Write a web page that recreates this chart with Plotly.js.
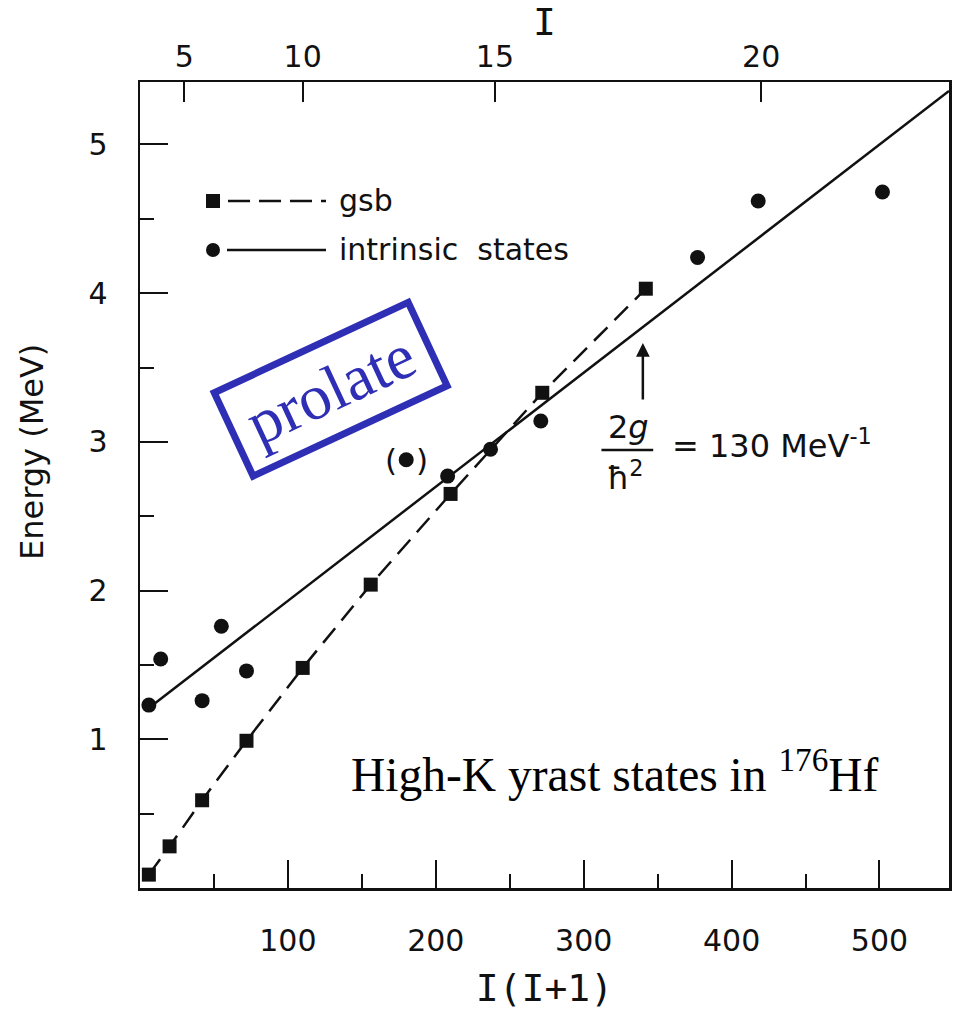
<!DOCTYPE html>
<html>
<head>
<meta charset="utf-8">
<script src="https://cdn.plot.ly/plotly-3.0.1.min.js"></script>
<style>html,body{margin:0;padding:0;background:#fff;}#chart{width:955px;height:1014px;}</style>
</head>
<body>
<div id="chart"></div>
<script>
// ground-state band (squares, dashed line)
const gsbX = [6, 20, 42, 72, 110, 156, 210, 272, 342];
const gsbE = [0.09, 0.28, 0.59, 0.99, 1.48, 2.04, 2.65, 3.33, 4.03];
// intrinsic (high-K) states (circles)
const intrX = [6, 14, 42, 55, 72, 208, 237, 271, 377, 418, 502];
const intrE = [1.23, 1.54, 1.26, 1.76, 1.46, 2.77, 2.95, 3.14, 4.24, 4.62, 4.68];
// tentative state shown in parentheses
const tentX = [180];
const tentE = [2.88];
// straight-line fit through intrinsic states (2J/hbar^2 = 130 MeV^-1)
const fitX = [6, 547];
const fitE = [1.21, 5.36];
// axis ticks
const xTicks = [100, 200, 300, 400, 500];
const xMinor = [50, 150, 250, 350, 450];
const yTicks = [1, 2, 3, 4, 5];
const yMinor = [0.5, 1.5, 2.5, 3.5, 4.5];
const spinTickVals = [30, 110, 240, 420];   // I(I+1) for I = 5, 10, 15, 20
const spinTickText = ['5', '10', '15', '20'];

const ink = '#111';
const blue = '#2f2fb5';
const sans = 'DejaVu Sans';
const mono = 'DejaVu Sans Mono';
const serif = 'Liberation Serif';

const traces = [
  {x: fitX, y: fitE, mode: 'lines', line: {color: ink, width: 2.5}, hoverinfo: 'skip', showlegend: false},
  {x: gsbX, y: gsbE, mode: 'lines+markers', name: 'gsb',
   line: {color: ink, width: 2.5, dash: '19px,10px'},
   marker: {symbol: 'square', size: 14, color: ink}, showlegend: false},
  {x: intrX, y: intrE, mode: 'markers', name: 'intrinsic states',
   marker: {symbol: 'circle', size: 15, color: ink}, showlegend: false},
  {x: tentX, y: tentE, mode: 'markers', name: 'tentative',
   marker: {symbol: 'circle', size: 15, color: ink}, showlegend: false},
  {x: [], y: [], xaxis: 'x2', yaxis: 'y', mode: 'markers', showlegend: false, hoverinfo: 'skip'}
];

// helpers to convert pixel positions in the 955x1014 frame to paper coords
const L = 140, R = 949, T = 82, B = 888;
const px = v => (v - L) / (R - L);
const py = v => (B - v) / (B - T);

const shapes = [
  // legend: gsb
  {type: 'rect', xref: 'paper', yref: 'paper', x0: px(206), x1: px(220), y0: py(208), y1: py(194),
   fillcolor: ink, line: {width: 0}},
  {type: 'line', xref: 'paper', yref: 'paper', x0: px(228), x1: px(326), y0: py(201), y1: py(201),
   line: {color: ink, width: 2.5, dash: '22px,9px'}},
  // legend: intrinsic states
  {type: 'circle', xref: 'paper', yref: 'paper', x0: px(206), x1: px(220), y0: py(257), y1: py(243),
   fillcolor: ink, line: {width: 0}},
  {type: 'line', xref: 'paper', yref: 'paper', x0: px(227), x1: px(326), y0: py(250), y1: py(250),
   line: {color: ink, width: 2.5}},
  // fraction bar of 2J/hbar^2
  {type: 'line', xref: 'x', yref: 'y', x0: 312, x1: 347, y0: 2.946, y1: 2.946,
   line: {color: ink, width: 2.5}}
];

const annotations = [
  {xref: 'paper', yref: 'paper', x: px(337), y: py(200), xanchor: 'left', yanchor: 'middle',
   text: 'gsb', showarrow: false, font: {family: sans, size: 30, color: ink}},
  {xref: 'paper', yref: 'paper', x: px(337), y: py(249), xanchor: 'left', yanchor: 'middle',
   text: 'intrinsic  states', showarrow: false, font: {family: sans, size: 30, color: ink}},
  // y axis title placed like the reference
  {xref: 'paper', yref: 'paper', x: px(32), y: py(452), xanchor: 'center', yanchor: 'middle',
   text: 'Energy (MeV)', textangle: -90, showarrow: false, font: {family: sans, size: 32, color: ink}},
  // parentheses around the tentative point
  {xref: 'x', yref: 'y', x: tentX[0], y: tentE[0], xshift: -15, text: '(', showarrow: false,
   font: {family: sans, size: 31, color: ink}},
  {xref: 'x', yref: 'y', x: tentX[0], y: tentE[0], xshift: 16, text: ')', showarrow: false,
   font: {family: sans, size: 31, color: ink}},
  // moment of inertia label: 2g / hbar^2
  {xref: 'x', yref: 'y', x: 330, y: 2.95, yanchor: 'bottom', yshift: 1, text: '2<i>g</i>', showarrow: false,
   font: {family: sans, size: 32, color: ink}},
  {xref: 'x', yref: 'y', x: 328, y: 2.94, yanchor: 'top', yshift: -2, text: 'ħ<sup>2</sup>', showarrow: false,
   font: {family: sans, size: 32, color: ink}},
  {xref: 'x', yref: 'y', x: 358.5, y: 2.985, xanchor: 'left', text: '= 130 MeV<sup>-1</sup>', showarrow: false,
   font: {family: sans, size: 32, color: ink}},
  {xref: 'x', yref: 'y', x: 340, y: 3.665, ax: 0, ay: 58, text: '', showarrow: true,
   arrowhead: 2, arrowsize: 1.1, arrowwidth: 2.5, arrowcolor: ink},
  // high-K caption
  {xref: 'paper', yref: 'paper', x: px(349), y: py(771), xanchor: 'left', yanchor: 'middle',
   text: 'High-K yrast states in <sup>176</sup>Hf', showarrow: false,
   font: {family: serif, size: 47.5, color: '#000'}},
  // prolate stamp
  {xref: 'paper', yref: 'paper', x: px(330), y: py(389), xanchor: 'center', yanchor: 'middle',
   text: 'prolate', textangle: -25, showarrow: false, width: 207, height: 85,
   bordercolor: blue, borderwidth: 7, borderpad: 0,
   font: {family: serif, size: 64, color: blue}}
];

const tickFont = {family: sans, size: 30, color: ink};

const layout = {
  width: 955, height: 1014,
  margin: {l: L, r: 955 - R, t: T, b: 1014 - B, pad: 0},
  paper_bgcolor: '#fff', plot_bgcolor: '#fff',
  showlegend: false,
  xaxis: {
    range: [0, 547], tickmode: 'array', tickvals: xTicks,
    ticks: 'inside', ticklen: 28, tickwidth: 2, tickcolor: ink,
    minor: {tickmode: 'array', tickvals: xMinor, ticks: 'inside', ticklen: 14, tickwidth: 2, tickcolor: ink},
    showline: true, linewidth: 2.5, linecolor: ink, mirror: true,
    showgrid: false, zeroline: false, tickfont: tickFont, ticklabelstandoff: 24,
    title: {text: 'I(I+1)', font: {family: mono, size: 38, color: ink}, standoff: 18}
  },
  xaxis2: {
    overlaying: 'x', side: 'top', anchor: 'y', range: [0, 547],
    tickmode: 'array', tickvals: spinTickVals, ticktext: spinTickText,
    ticks: 'inside', ticklen: 20, tickwidth: 2, tickcolor: ink,
    showline: false, showgrid: false, zeroline: false, tickfont: tickFont, ticklabelstandoff: 8,
    title: {text: 'I', font: {family: mono, size: 38, color: ink}, standoff: 0}
  },
  yaxis: {
    range: [0, 5.42], tickmode: 'array', tickvals: yTicks,
    ticks: 'inside', ticklen: 28, tickwidth: 2, tickcolor: ink,
    minor: {tickmode: 'array', tickvals: yMinor, ticks: 'inside', ticklen: 14, tickwidth: 2, tickcolor: ink},
    showline: true, linewidth: 2.5, linecolor: ink, mirror: true,
    showgrid: false, zeroline: false, tickfont: tickFont, ticklabelstandoff: 24
  },
  shapes: shapes,
  annotations: annotations
};

Plotly.newPlot('chart', traces, layout, {displayModeBar: false, staticPlot: true});
</script>
</body>
</html>
